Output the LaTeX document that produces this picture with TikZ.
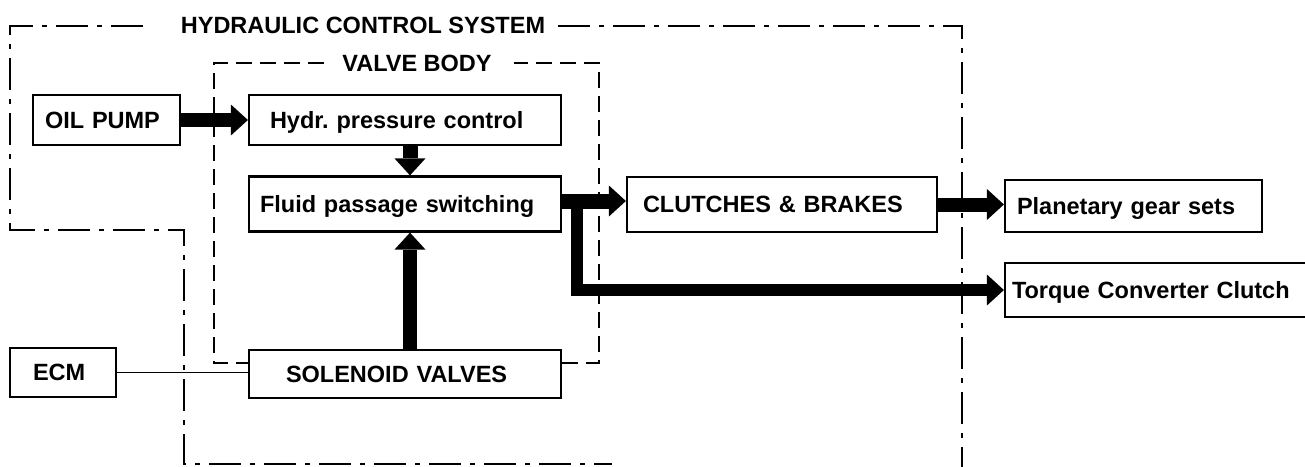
\documentclass[tikz,border=0pt]{standalone}
\usepackage{fontspec}
\setmainfont{Liberation Sans}
\usetikzlibrary{arrows.meta}
\begin{document}
\begin{tikzpicture}[x=1pt,y=-1pt,
  every node/.style={font=\fontsize{23.5}{28}\selectfont\bfseries},
  box/.style={draw, line width=2.2pt, align=left, inner ysep=0pt, text height=16.8pt, text depth=0pt},
  flow/.style={line width=14pt, -{Triangle[length=17pt,width=31pt,line width=0pt]}},
  outerline/.style={line width=1.8pt, dash pattern=on 32pt off 9pt on 5pt off 9pt},
  innerline/.style={line width=1.8pt, dash pattern=on 16pt off 8pt},
  wire/.style={line width=1.3pt}]
\useasboundingbox (0,0) rectangle (1305,466);
\clip (0,0) rectangle (1305,466);

% boxes
\node[box, minimum height=50pt, inner xsep=12pt, text width=123pt] (oil) at (106.5,120) {OIL PUMP};
\node[box, minimum height=50pt, inner xsep=21pt, text width=270pt] (hydr) at (405,120) {Hydr.\ pressure control};
\node[box, minimum height=55pt, inner xsep=11pt, text width=290pt] (fluid) at (405,204) {Fluid passage switching};
\node[box, minimum height=48pt, inner xsep=37pt, text width=238pt] (sol) at (405,374) {SOLENOID VALVES};
\node[box, minimum height=49pt, inner xsep=23pt, text width=60pt] (ecm) at (63,372.5) {ECM};
\node[box, minimum height=55pt, inner xsep=16pt, text width=278pt] (clutch) at (782,204.5) {CLUTCHES \& BRAKES};
\node[box, minimum height=52pt, inner xsep=12pt, text width=233pt] (planet) at (1133.5,206) {Planetary gear sets};
\node[box, minimum height=54pt, inner xsep=7pt, text width=486pt] (torque) at (1255,290) {Torque Converter Clutch};

% frame titles
\node (hcs) at (363,25) {HYDRAULIC CONTROL SYSTEM};
\node (vb) at (417,63) {VALVE BODY};

% outer dash-dot frame
\draw[outerline] (143,26) -- (10,26) -- (10,230) -- (184,230) -- (184,464) -- (612,464);
\draw[outerline] (558,26) -- (962,26) -- (962,470);

% valve body dashed frame
\draw[innerline] (324,63) -- (214,63) -- (214,363) -- (sol.west |- 0,363);
\draw[innerline] (sol.east |- 0,363) -- (599,363) -- (599,63) -- (514,63);

% flows
\draw[flow] (oil.east) -- (hydr.west);
\draw[flow, line width=15pt] ([xshift=5pt]hydr.south) -- ([xshift=5pt]fluid.north);
\draw[flow] ([xshift=5pt]sol.north) -- ([xshift=5pt]fluid.south);
\draw[flow, line width=15pt] ([yshift=3pt]fluid.east) -- ([yshift=3pt]fluid.east -| clutch.west);
\draw[flow] (clutch.east) -- (clutch.east -| planet.west);
\draw[flow, line width=12pt] ([xshift=15pt,yshift=7pt]fluid.east) |- (torque.west);

% ECM signal
\draw[wire] (ecm.east) -- (ecm.east -| sol.west);
\end{tikzpicture}
\end{document}
